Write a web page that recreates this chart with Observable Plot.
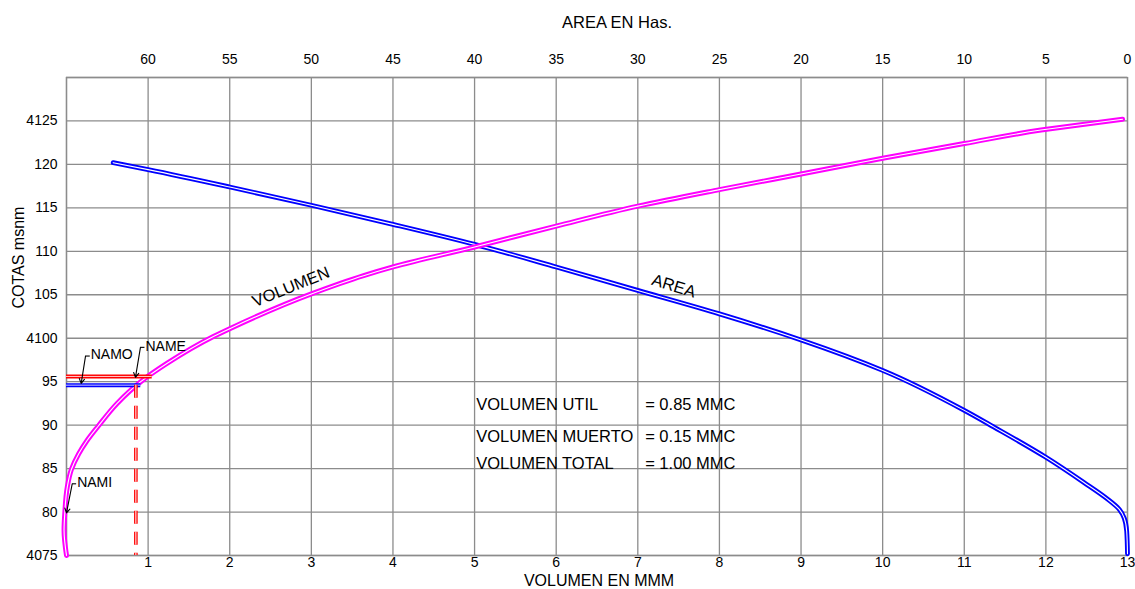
<!DOCTYPE html>
<html><head><meta charset="utf-8">
<script src="https://cdn.jsdelivr.net/npm/d3@7"></script>
<script src="https://cdn.jsdelivr.net/npm/@observablehq/plot@0.6"></script>
<style>
body{margin:0;background:#fff;}
#chart{width:1135px;height:589px;overflow:hidden;}
</style>
</head><body><div id="chart"></div>
<script>
// ---- Curva de volumen (MMC vs cota) ----
const volumeElev  = [4075, 4077.9, 4080, 4082.9, 4084.9, 4086.7, 4088.2, 4089.9, 4092.5, 4095.0, 4097.1, 4100.2, 4101.1, 4105.1, 4107.2, 4108.2, 4110.5, 4112.9, 4115.2, 4117.1, 4118.9, 4120.7, 4122.4, 4123.95, 4124.6, 4125.2];
const volumeValue = [0.00, -0.03, -0.02, 0.01, 0.06, 0.15, 0.25, 0.39, 0.62, 0.91, 1.23, 1.80, 2.00, 3.00, 3.64, 4.00, 5.00, 6.00, 7.00, 8.00, 9.00, 10.00, 11.00, 11.94, 12.45, 12.94];
// ---- Curva de área (Has. vs cota) ----
const areaElev  = [4120.2, 4119.4, 4117.4, 4115.3, 4113.1, 4110.8, 4108.2, 4105.5, 4102.8, 4099.8, 4096.3, 4091.7, 4089.8, 4086.3, 4083.4, 4081.6, 4080.3, 4079.3, 4077.8, 4075.2];
const areaValue = [62.14, 60, 55, 50, 45, 40, 35, 30, 25, 20, 15, 10, 8.2, 5.0, 2.67, 1.3, 0.5, 0.2, 0.05, 0.0];
// ---- Ticks ----
const volumeTicks = [1,2,3,4,5,6,7,8,9,10,11,12,13];
const areaTicks = [60,55,50,45,40,35,30,25,20,15,10,5,0];
const elevTicks = [4075,4080,4085,4090,4095,4100,4105,4110,4115,4120,4125];
const gridVol = [0,1,2,3,4,5,6,7,8,9,10,11,12,13];
const gridElev = [4075,4080,4085,4090,4095,4100,4105,4110,4115,4120,4125,4130];
// ---- Niveles ----
const levelNames = ["NAME", "NAMO"];
const levelElev = [4095.6, 4094.6];
const levelVolEnd = [1.05, 0.91];
const levelColor = ["#ff0000", "#0000ff"];
const utilVolume = 0.85; // MMC, vertical dashed
const utilTop = 4094.6;
// ---- Etiquetas de niveles ----
const tagNames = ["NAMO", "NAME", "NAMI"];
const tagVol = [0.285, 0.955, 0.118];
const tagElev = [4098.1, 4099.1, 4083.4];
const tagCornerVol = [0.233, 0.906, 0.07];
const tagTipVol = [0.18, 0.845, 0.0];
const tagTipElev = [4094.8, 4095.5, 4079.9];
// ---- Resumen ----
const summaryNames = ["VOLUMEN UTIL", "VOLUMEN MUERTO", "VOLUMEN TOTAL"];
const summaryValues = ["= 0.85 MMC", "= 0.15 MMC", "= 1.00 MMC"];
const summaryElev = [4092.3, 4088.7, 4085.6];

const AREA_AT_ZERO_VOL = 65, AREA_PER_VOL = 5;
const areaToVol = a => (AREA_AT_ZERO_VOL - a) / AREA_PER_VOL;

const volumeData = volumeElev.map((e,i)=>({elev:e, vol:volumeValue[i]}));
const areaData = areaElev.map((e,i)=>({elev:e, area:areaValue[i]}));
const levels = levelNames.map((n,i)=>({name:n, elev:levelElev[i], vol:levelVolEnd[i], color:levelColor[i]}));
const tags = tagNames.map((n,i)=>({name:n, vol:tagVol[i], elev:tagElev[i], cvol:tagCornerVol[i], tvol:tagTipVol[i], telev:tagTipElev[i]}));
const summary = summaryNames.map((n,i)=>({name:n, value:summaryValues[i], elev:summaryElev[i]}));

const GRID = "#8c8c8c";
const FONT = "Liberation Sans, Arial, sans-serif";

function doubleLine(data, opts, color, w){
  return [
    Plot.line(data, {...opts, stroke: color, strokeWidth: w, curve: "monotone-y"}),
    Plot.line(data, {...opts, stroke: "#fff", strokeWidth: 1.1, curve: "monotone-y"})
  ];
}

const chart = Plot.plot({
  width: 1135, height: 589,
  marginLeft: 66, marginRight: 8, marginTop: 77, marginBottom: 34,
  style: {fontFamily: FONT, background: "#fff", color: "#000"},
  x: {domain: [0, 13], axis: null},
  y: {domain: [4075, 4130], axis: null},
  marks: [
    Plot.gridX(gridVol, {stroke: GRID, strokeOpacity: 1, strokeWidth: 1.3}),
    Plot.gridY(gridElev, {stroke: GRID, strokeOpacity: 1, strokeWidth: 1.3}),
    Plot.frame({stroke: GRID, strokeWidth: 1.3}),
    // axes
    Plot.axisX(volumeTicks, {anchor: "bottom", tickSize: 0, tickPadding: 2, fontSize: 14, label: null}),
    Plot.axisX(areaTicks.map(areaToVol), {anchor: "top", tickSize: 0, tickPadding: 14, fontSize: 14, label: null,
      tickFormat: v => String(Math.round(AREA_AT_ZERO_VOL - v * AREA_PER_VOL))}),
    Plot.axisY(elevTicks, {anchor: "left", tickSize: 0, tickPadding: 9, fontSize: 14, label: null,
      tickFormat: v => v % 25 === 0 ? String(v) : String(v % 1000)}),
    Plot.text(["AREA EN Has."], {frameAnchor: "top", dx: 20, dy: -61, fontSize: 16.5}),
    Plot.text(["VOLUMEN EN MMM"], {frameAnchor: "bottom", dx: 2, dy: 30, fontSize: 16}),
    Plot.text(["COTAS msnm"], {frameAnchor: "left", dx: -48, dy: -8, rotate: -90, fontSize: 16}),
    // curves
    ...doubleLine(areaData, {x: d => areaToVol(d.area), y: "elev"}, "#0000ff", 4.8),
    ...doubleLine(volumeData, {x: "vol", y: "elev"}, "#ff00ff", 5),
    // level lines
    Plot.ruleY(levels, {y: "elev", x1: 0, x2: "vol", stroke: "color", strokeWidth: 4}),
    Plot.ruleY(levels, {y: "elev", x1: 0, x2: "vol", stroke: "#fff", strokeWidth: 1, strokeOpacity: 0.8}),
    Plot.ruleX([utilVolume], {y1: utilTop, y2: 4075, stroke: "#ff0000", strokeWidth: 3.6, strokeDasharray: "13,8"}),
    Plot.ruleX([utilVolume], {y1: utilTop, y2: 4075, stroke: "#fff", strokeWidth: 1, strokeDasharray: "13,8"}),
    // tags
    Plot.link(tags, {x1: "vol", x2: "cvol", y1: d => d.elev - 0.15, y2: d => d.elev - 0.15, stroke: "#000", strokeWidth: 1.1}),
    Plot.arrow(tags, {x1: "cvol", y1: d => d.elev - 0.15, x2: "tvol", y2: "telev", stroke: "#000", strokeWidth: 1.1, headLength: 7, bend: 0}),
    Plot.text(tags, {x: "vol", y: "elev", text: "name", textAnchor: "start", dx: 1, fontSize: 14}),
    // curve labels
    Plot.text(["VOLUMEN"], {x: [2.75], y: [4105.9], rotate: -22, fontSize: 16.5}),
    Plot.text(["AREA"], {x: [7.44], y: [4106.0], rotate: 17, fontSize: 16.5}),
    // summary
    Plot.text(summary, {x: 5.02, y: "elev", text: "name", textAnchor: "start", fontSize: 16.5}),
    Plot.text(summary, {x: 7.09, y: "elev", text: "value", textAnchor: "start", fontSize: 16.5})
  ]
});
document.getElementById("chart").appendChild(chart);
</script>
</body></html>
